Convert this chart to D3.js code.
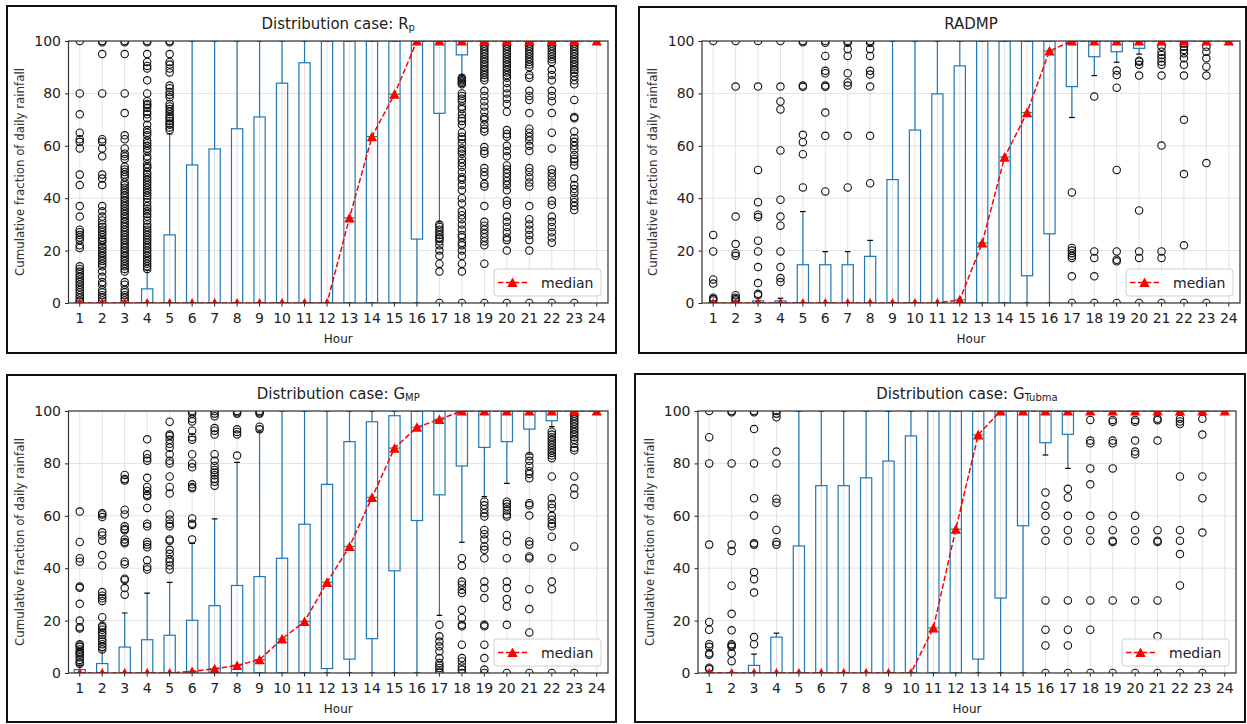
<!DOCTYPE html>
<html>
<head>
<meta charset="utf-8">
<script src="https://cdn.jsdelivr.net/npm/d3@7"></script>
<style>
  body { margin: 0; background: #fff; }
  text { font-family: "DejaVu Sans", sans-serif; }
</style>
</head>
<body>
<div id="chart"></div>
<script>
// hours on the x axis
var hours = [1, 2, 3, 4, 5, 6, 7, 8, 9, 10, 11, 12, 13, 14, 15, 16, 17, 18, 19, 20, 21, 22, 23, 24];
var yTicks = [0, 20, 40, 60, 80, 100];

// Distribution case: Rp
var rpQ1 = [0, 0, 0, 0, 0, 0, 0, 0, 0, 0, 0, 0, 0, 0, 0, 24.4, 72.4, 94.7, 100, 100, 100, 100, 100, 100];
var rpQ3 = [0, 0, 0, 5.4, 26, 52.7, 58.8, 66.5, 71, 83.9, 91.7, 100, 100, 100, 100, 100, 100, 100, 100, 100, 100, 100, 100, 100];
var rpLow = [0, 0, 0, 0, 0, 0, 0, 0, 0, 0, 0, 0, 0, 0, 0, 0, 31, 87, 100, 100, 100, 100, 100, 100];
var rpHigh = [0, 0, 0, 12.5, 64.5, 100, 100, 100, 100, 100, 100, 100, 100, 100, 100, 100, 100, 100, 100, 100, 100, 100, 100, 100];
var rpMedian = [0, 0, 0, 0, 0, 0, 0, 0, 0, 0, 0, 0, 32.5, 63.5, 79.7, 100, 100, 100, 100, 100, 100, 100, 100, 100];
var rpFliers = [
  [100, 80, 72, 65, 62.5, 61.5, 59, 49, 45, 37, 33, 28, 27, 26, 25, 24, 22, 21, 14, 13, 12, 11, 10, 9, 8, 7, 6, 5, 4, 3, 2, 1, 0.5],
  [100, 99.5, 95, 80, 62.5, 61.5, 59, 56, 49, 47.5, 45, 37, 35, 33, 31.5, 30, 29, 28, 27, 26, 25, 24, 23.5, 22, 21, 20, 19, 18, 17, 16, 15, 14, 12, 10, 8, 7, 5, 4, 3, 2, 1],
  [100, 99.5, 95, 80, 72.5, 64, 62.5, 59, 57, 56, 55, 52, 51, 50, 49, 48, 46, 45, 44, 43, 42, 41, 40, 39, 38, 37, 36, 35, 34, 33, 32, 31, 30, 29, 28, 27, 26, 25, 24, 23, 22, 21, 20, 19, 18, 17, 16, 15, 14, 13, 12, 8, 7, 5, 4, 3, 2, 1],
  [100, 99.5, 95, 92, 90.5, 89.5, 85, 80, 77, 76, 75.5, 74.5, 73, 72, 70.5, 68, 66, 65, 64, 62, 61, 60, 59, 58, 56, 55, 53, 52, 51.5, 50, 49, 48, 47, 46, 45, 44, 43, 42, 41, 40, 38.5, 37, 36, 35, 34, 33, 31.5, 30, 29, 28, 27, 26, 25, 24, 23, 22, 21, 20, 19, 18, 17, 16, 15, 14, 13],
  [100, 99.5, 95, 92, 91, 89.5, 88, 83, 82, 80.5, 79.5, 78.5, 76, 75, 74, 73, 72, 71, 70.5, 69.5, 68.5, 68, 67, 66],
  [], [], [], [], [], [], [], [], [], [], [],
  [30, 29, 28, 27, 26, 25, 24.5, 23.5, 22, 20, 18, 15, 12, 0],
  [86, 85.5, 85, 84.5, 84, 83.5, 80, 79, 78, 77, 75, 74, 72, 70.5, 69.5, 68, 65, 63.5, 62.5, 61, 59, 58, 57, 55, 53.5, 52, 50, 48, 47, 45, 43, 40, 38, 35, 33.5, 32, 30, 28, 26, 25, 23, 22, 20, 18, 15, 12, 0],
  [99, 98, 97, 96, 95, 94, 93, 92, 91, 90, 89, 88, 87, 86, 85, 81, 79, 77, 75, 73, 71, 70, 68, 66.5, 65.5, 59.5, 58, 57, 51.5, 50, 48.5, 45.5, 44.5, 37, 31, 29.5, 28, 26.5, 25, 23.5, 22, 15, 0],
  [99, 98, 97, 96, 95, 94, 93, 92, 91, 90, 89, 88, 87, 86, 84, 82, 80, 78, 76, 73, 66, 64.5, 63.5, 60, 58, 56, 52.5, 51, 49.5, 48, 46.5, 45, 43, 39, 37.5, 33, 31, 29, 27, 25, 24, 20, 0],
  [99, 98, 97, 96, 95, 94, 93, 92, 91, 90, 87, 86, 81, 79, 77.5, 72.5, 66.5, 65, 63.5, 62, 60, 58, 51.5, 50, 48, 46, 44.5, 37, 32, 30, 28, 26, 24, 20, 0],
  [99, 98, 97, 96, 95, 94, 93, 92, 89, 87, 85, 81, 79, 77, 72.5, 65, 59, 51, 49.5, 48, 46, 44.5, 39, 37.5, 33, 31, 29, 27, 25, 23, 0],
  [99, 98, 97, 96, 95, 94, 93, 92, 91, 90, 89, 88, 86.5, 85, 83.5, 77.5, 71, 70.5, 65.5, 63, 61.5, 60, 58.5, 56.5, 55, 54, 52.5, 47.5, 45, 43.5, 42, 40, 38.5, 37, 35.5, 0],
  []
];

// RADMP
var adQ1 = [0, 0, 0, 0, 0, 0, 0, 0, 0, 0, 0, 0, 0, 0, 10.4, 26.4, 82.6, 94, 95.9, 97.2, 100, 100, 100, 100];
var adQ3 = [0, 0, 0.8, 0.8, 14.6, 14.6, 14.6, 17.8, 47.1, 66, 79.8, 90.5, 100, 100, 100, 100, 100, 100, 100, 100, 100, 100, 100, 100];
var adLow = [0, 0, 0, 0, 0, 0, 0, 0, 0, 0, 0, 0, 0, 0, 0, 0, 70.8, 86.8, 91.9, 95, 100, 100, 100, 100];
var adHigh = [0, 0, 0.8, 1.8, 34.9, 19.6, 19.6, 23.9, 100, 100, 100, 100, 100, 100, 100, 100, 100, 100, 100, 100, 100, 100, 100, 100];
var adMedian = [0, 0, 0, 0, 0, 0, 0, 0, 0, 0, 0, 1.2, 22.9, 55.7, 72.7, 96.2, 100, 100, 100, 100, 100, 100, 100, 100];
var adFliers = [
  [100, 26, 19.7, 9, 7.4, 2, 1.5, 1],
  [100, 82.6, 33, 22.5, 19, 18, 3, 2, 1.5, 1],
  [100, 82.6, 50.8, 38.5, 33.7, 32.8, 23.8, 19.7, 13.7, 7.6, 3.5, 3],
  [100, 82.6, 76.9, 73.9, 58.2, 39.4, 33, 29.5, 19.7, 13.7, 9.5, 8],
  [100, 99.5, 83, 82.5, 64.2, 61.4, 56.8, 44.1],
  [100, 99.3, 94.3, 88.6, 87.7, 83, 82.5, 72.7, 63.8, 42.6],
  [100, 99.3, 96.9, 94.3, 87.7, 84.2, 83, 63.8, 44.1],
  [100, 99.3, 96.9, 94.3, 88.6, 87.2, 82.6, 63.8, 45.7],
  [], [], [], [], [], [], [], [],
  [42.2, 21, 20, 19, 18, 17.2, 10.2, 0],
  [78.8, 19.7, 17.2, 10.2, 0],
  [88.7, 87, 82.2, 50.8, 19.7, 16.5, 15.9, 0],
  [92.5, 92.1, 90.9, 86.8, 35.3, 19.7, 17.2, 0],
  [97.8, 95.9, 94.7, 93.4, 92.1, 90.9, 86.8, 60.1, 19.7, 17.2, 0],
  [99, 97.8, 96.6, 95.3, 93.4, 90.9, 86.8, 69.9, 49.2, 22, 0],
  [97.8, 95.9, 93.4, 90.2, 86.8, 53.4, 0],
  []
];

// Distribution case: GMP
var gmQ1 = [0, 0, 0, 0, 0, 0, 0, 0, 0, 0, 0, 1.7, 5.3, 13.1, 39, 58.2, 68, 79, 86.1, 88.3, 93.1, 96.3, 100, 100];
var gmQ3 = [1.3, 3.6, 9.9, 12.7, 14.4, 20.1, 25.7, 33.4, 36.8, 43.8, 56.8, 72, 88.3, 95.9, 98.2, 100, 100, 100, 100, 100, 100, 100, 100, 100];
var gmLow = [0, 0, 0, 0, 0, 0, 0, 0, 0, 0, 0, 0, 0, 0, 0, 0, 22, 49.9, 67.3, 72.4, 83.5, 94, 100, 100];
var gmHigh = [3, 8.5, 22.9, 30.5, 34.6, 49.5, 58.8, 80.4, 92, 100, 100, 100, 100, 100, 100, 100, 100, 100, 100, 100, 100, 100, 100, 100];
var gmMedian = [0, 0, 0, 0, 0, 0.6, 1.6, 2.9, 5.1, 13, 19.7, 34.6, 48.3, 67, 85.8, 93.8, 96.8, 100, 100, 100, 100, 100, 100, 100];
var gmFliers = [
  [61.6, 50, 43.8, 42.5, 33, 32.5, 26.4, 20, 17.5, 17, 11, 10.5, 10, 9, 8, 7.5, 7, 6, 5, 4, 3.5],
  [61, 60.5, 59.5, 53.7, 52.5, 50.5, 45, 41, 30.9, 29.5, 28.5, 27.5, 21.3, 18, 17.5, 16.5, 15.5, 14.5, 13, 12, 11, 10, 9],
  [75.6, 74, 73.5, 62.3, 60.5, 56, 55, 54.5, 51, 50, 49.5, 42.5, 41.5, 36, 35.5, 32.4, 29.9],
  [89.2, 83.5, 82, 81, 74.5, 71, 69.5, 68, 67.5, 63, 57, 56, 50, 49, 48, 43, 40.5, 39.5],
  [95.9, 91, 90.5, 89, 87.5, 86, 83.5, 81, 80, 75, 71, 68.5, 60.5, 58.5, 57, 56, 51, 50.5, 47, 45.5, 43.5, 42.5, 41, 39.5],
  [100, 99, 97, 96, 92.5, 90, 89, 83.5, 80, 78.5, 72, 71, 70.5, 59, 57, 56.5, 51],
  [100, 99, 98, 93.5, 92.5, 91, 83.5, 81, 79, 77.5, 76.5, 75.5, 74, 73, 71.5],
  [100, 99.5, 99, 93, 92, 91, 83],
  [100, 99.5, 99, 94, 93],
  [], [], [], [], [], [], [],
  [18.4, 14, 12, 10.2, 8.3, 5.7, 3.8, 2.8, 1.9, 0.6, 0],
  [43.8, 40.9, 34.9, 33.7, 31.8, 30.5, 24.1, 21, 18.4, 17.8, 10.8, 5.7, 4.4, 2.5, 1.3, 0],
  [65.4, 64, 62.5, 61, 59.7, 54.6, 53, 51, 48.3, 47, 43.8, 34.9, 32.4, 28.6, 18.4, 17.8, 10.8, 5.7, 1.3, 0],
  [65.4, 64.5, 63.5, 62, 60.5, 59.7, 52.7, 50.2, 43.8, 34.9, 32.4, 28.2, 25.4, 18.4, 0],
  [82.8, 81, 79, 77, 76, 74.3, 64.8, 64, 60.1, 50.2, 49, 44.5, 43.8, 32, 24.4, 15.5, 0],
  [92.1, 91, 90, 89, 88, 87, 86, 85, 84, 83, 82, 75, 66.7, 64.5, 63, 60, 58.5, 57, 56, 52, 43.8, 34.9, 32, 0],
  [99, 98, 97, 96, 95, 94, 93, 92, 91, 90, 89, 87.5, 86, 85, 75, 70.5, 68, 48.3, 0],
  []
];

// Distribution case: GTubma
var tbQ1 = [0, 0, 0, 0, 0, 0, 0, 0, 0, 0, 0, 0, 5.3, 28.6, 56.2, 87.9, 91.1, 100, 100, 100, 100, 100, 100, 100];
var tbQ3 = [0, 0, 2.9, 13.7, 48.5, 71.5, 71.5, 74.5, 80.9, 90.5, 100, 100, 100, 100, 100, 100, 100, 100, 100, 100, 100, 100, 100, 100];
var tbLow = [0, 0, 0, 0, 0, 0, 0, 0, 0, 0, 0, 0, 0, 0, 0, 83.2, 78.1, 100, 100, 100, 100, 100, 100, 100];
var tbHigh = [0, 0, 7.2, 15.2, 100, 100, 100, 100, 100, 100, 100, 100, 100, 100, 100, 100, 100, 100, 100, 100, 100, 100, 100, 100];
var tbMedian = [0, 0, 0, 0, 0, 0, 0, 0, 0, 0, 17.2, 54.9, 90.9, 100, 100, 100, 100, 100, 100, 100, 100, 100, 100, 100];
var tbFliers = [
  [100, 90, 80, 49, 19.5, 16.5, 11, 10, 7.5, 7, 2, 1.5],
  [100, 99.5, 80, 49, 46.6, 33.3, 22.6, 16.3, 11, 10.5, 10, 7.5, 4.5],
  [100, 99.5, 93.1, 80, 66.7, 60.1, 49.5, 49, 38.5, 35.8, 30.7, 13.7, 11],
  [100, 99, 97.6, 84.5, 80, 66.5, 65, 54.6, 50, 49],
  [], [], [], [], [], [], [], [], [], [], [],
  [68.9, 63.8, 60, 54.5, 50.5, 27.7, 16.5, 10.5, 0],
  [70.3, 67, 60, 54.5, 50.5, 27.7, 16.5, 10.5, 0],
  [96.6, 88.7, 87.7, 78.1, 72, 60, 54.5, 50.5, 27.7, 16.5, 0],
  [96.6, 95.9, 88.7, 87.7, 78.1, 60, 54.5, 50.5, 50, 27.7, 0],
  [96.6, 95.9, 88.7, 84.5, 83.5, 60, 54.5, 50.5, 27.7, 0],
  [97, 96.5, 88.7, 54.5, 50.5, 50, 27.7, 14, 0],
  [97, 96, 95, 75, 54.5, 50.5, 45.4, 33.4, 0],
  [97, 91, 75, 66.7, 53.6, 0],
  []
];

var panels = [
  { title: 'Distribution case: R', sub: 'p', frame: [7, 6, 609, 347], plot: [68.5, 41, 608, 303], ylabX: 20,
    q1: rpQ1, q3: rpQ3, lo: rpLow, hi: rpHigh, med: rpMedian, fliers: rpFliers },
  { title: 'RADMP', sub: '', frame: [639, 7, 607, 346], plot: [702, 41, 1240, 303], ylabX: 653,
    q1: adQ1, q3: adQ3, lo: adLow, hi: adHigh, med: adMedian, fliers: adFliers },
  { title: 'Distribution case: G', sub: 'MP', frame: [7, 375, 609, 347], plot: [68.5, 411, 608, 673], ylabX: 20,
    q1: gmQ1, q3: gmQ3, lo: gmLow, hi: gmHigh, med: gmMedian, fliers: gmFliers },
  { title: 'Distribution case: G', sub: 'Tubma', frame: [635, 374, 610, 348], plot: [698, 411, 1236, 673], ylabX: 650,
    q1: tbQ1, q3: tbQ3, lo: tbLow, hi: tbHigh, med: tbMedian, fliers: tbFliers }
];

var blue = '#1f77b4';
var tri = 'M0,-5L5.2,4.6L-5.2,4.6Z';

var svg = d3.select('#chart').append('svg')
    .attr('width', 1247)
    .attr('height', 724);

panels.forEach(function(p, pi) {
  var left = p.plot[0], top = p.plot[1], right = p.plot[2], bottom = p.plot[3];
  var x = d3.scaleBand().domain(hours).range([left, right]);
  var y = d3.scaleLinear().domain([0, 100]).range([bottom, top]);
  var bw = x.bandwidth();
  var cx = function(h) { return x(h) + bw / 2; };
  var g = svg.append('g');

  // outer frame
  g.append('rect')
      .attr('x', p.frame[0]).attr('y', p.frame[1])
      .attr('width', p.frame[2]).attr('height', p.frame[3])
      .attr('fill', 'none').attr('stroke', '#111').attr('stroke-width', 2);

  var clipId = 'clip' + pi;
  svg.append('clipPath').attr('id', clipId).append('rect')
      .attr('x', left).attr('y', top)
      .attr('width', right - left).attr('height', bottom - top);

  var plot = g.append('g').attr('clip-path', 'url(#' + clipId + ')');

  // grid
  plot.selectAll('.gy').data(yTicks).enter().append('line')
      .attr('x1', left).attr('x2', right)
      .attr('y1', function(d) { return y(d); }).attr('y2', function(d) { return y(d); })
      .attr('stroke', '#e2e2e2').attr('stroke-width', 1);
  plot.selectAll('.gx').data(hours).enter().append('line')
      .attr('x1', cx).attr('x2', cx)
      .attr('y1', top).attr('y2', bottom)
      .attr('stroke', '#e2e2e2').attr('stroke-width', 1);

  var rows = hours.map(function(h, i) {
    return { h: h, q1: p.q1[i], q3: p.q3[i], lo: p.lo[i], hi: p.hi[i], med: p.med[i], fliers: p.fliers[i] };
  });

  // whiskers
  plot.selectAll('.wh').data(rows).enter().append('line')
      .attr('x1', function(d) { return cx(d.h); }).attr('x2', function(d) { return cx(d.h); })
      .attr('y1', function(d) { return y(d.q3); }).attr('y2', function(d) { return y(d.hi); })
      .attr('stroke', blue).attr('stroke-width', 1.2);
  plot.selectAll('.wl').data(rows).enter().append('line')
      .attr('x1', function(d) { return cx(d.h); }).attr('x2', function(d) { return cx(d.h); })
      .attr('y1', function(d) { return y(d.q1); }).attr('y2', function(d) { return y(d.lo); })
      .attr('stroke', blue).attr('stroke-width', 1.2);

  // caps
  ['hi', 'lo'].forEach(function(k) {
    plot.selectAll('.cap' + k).data(rows).enter().append('line')
        .attr('x1', function(d) { return cx(d.h) - bw * 0.125; })
        .attr('x2', function(d) { return cx(d.h) + bw * 0.125; })
        .attr('y1', function(d) { return y(d[k]); }).attr('y2', function(d) { return y(d[k]); })
        .attr('stroke', '#000').attr('stroke-width', 1.2);
  });

  // boxes
  plot.selectAll('.box').data(rows).enter().append('rect')
      .attr('x', function(d) { return cx(d.h) - bw * 0.25; })
      .attr('width', bw * 0.5)
      .attr('y', function(d) { return y(d.q3); })
      .attr('height', function(d) { return y(d.q1) - y(d.q3); })
      .attr('fill', 'none').attr('stroke', blue).attr('stroke-width', 1.2);

  // box medians
  plot.selectAll('.bm').data(rows).enter().append('line')
      .attr('x1', function(d) { return cx(d.h) - bw * 0.25; })
      .attr('x2', function(d) { return cx(d.h) + bw * 0.25; })
      .attr('y1', function(d) { return y(d.med); }).attr('y2', function(d) { return y(d.med); })
      .attr('stroke', '#2ca02c').attr('stroke-width', 1.2);

  // fliers
  var pts = [];
  rows.forEach(function(d) { d.fliers.forEach(function(v) { pts.push({ h: d.h, v: v }); }); });
  plot.selectAll('.fl').data(pts).enter().append('circle')
      .attr('cx', function(d) { return cx(d.h); })
      .attr('cy', function(d) { return y(d.v); })
      .attr('r', 3.7)
      .attr('fill', 'none').attr('stroke', '#111').attr('stroke-width', 1.1);

  // red median line
  var line = d3.line().x(function(d) { return cx(d.h); }).y(function(d) { return y(d.med); });
  plot.append('path').datum(rows)
      .attr('d', line)
      .attr('fill', 'none').attr('stroke', 'red').attr('stroke-width', 1.5)
      .attr('stroke-dasharray', '5.5,2.4');
  plot.selectAll('.mk').data(rows).enter().append('path')
      .attr('d', tri)
      .attr('transform', function(d) { return 'translate(' + cx(d.h) + ',' + y(d.med) + ')'; })
      .attr('fill', 'red');

  // axes
  var xa = g.append('g').attr('transform', 'translate(0,' + bottom + ')')
      .call(d3.axisBottom(x).tickSize(3.5).tickPadding(6.5));
  var ya = g.append('g').attr('transform', 'translate(' + left + ',0)')
      .call(d3.axisLeft(y).tickValues(yTicks).tickSize(3.5).tickPadding(4));
  [xa, ya].forEach(function(a) {
    a.select('.domain').remove();
    a.selectAll('text').style('font-size', '14px').attr('fill', '#222');
    a.selectAll('line').attr('stroke', '#222');
  });

  // spines
  g.append('rect')
      .attr('x', left).attr('y', top)
      .attr('width', right - left).attr('height', bottom - top)
      .attr('fill', 'none').attr('stroke', '#333').attr('stroke-width', 1.2);

  // title
  var t = g.append('text')
      .attr('x', (left + right) / 2).attr('y', top - 12)
      .attr('text-anchor', 'middle')
      .style('font-size', '15px').attr('fill', '#222')
      .text(p.title);
  if (p.sub) {
    t.append('tspan').attr('dy', 2).style('font-size', '10px').text(p.sub);
  }

  // axis labels
  g.append('text')
      .attr('x', (left + right) / 2).attr('y', bottom + 40)
      .attr('text-anchor', 'middle')
      .style('font-size', '12px').attr('fill', '#222')
      .text('Hour');
  g.append('text')
      .attr('transform', 'translate(' + p.ylabX + ',' + ((top + bottom) / 2) + ') rotate(-90)')
      .attr('text-anchor', 'middle').attr('dy', '0.35em')
      .style('font-size', '11.8px').attr('fill', '#333')
      .text('Cumulative fraction of daily rainfall');

  // legend
  var lw = 107, lh = 27;
  var lx = right - 7 - lw, ly = bottom - 7 - lh;
  var lg = g.append('g');
  lg.append('rect')
      .attr('x', lx).attr('y', ly).attr('width', lw).attr('height', lh).attr('rx', 3)
      .attr('fill', '#fff').attr('fill-opacity', 0.8)
      .attr('stroke', '#d0d0d0').attr('stroke-width', 1);
  lg.append('line')
      .attr('x1', lx + 4).attr('x2', lx + 33)
      .attr('y1', ly + lh / 2).attr('y2', ly + lh / 2)
      .attr('stroke', 'red').attr('stroke-width', 1.5).attr('stroke-dasharray', '5.5,2.4');
  lg.append('path')
      .attr('d', tri)
      .attr('transform', 'translate(' + (lx + 18.5) + ',' + (ly + lh / 2) + ')')
      .attr('fill', 'red');
  lg.append('text')
      .attr('x', lx + 47).attr('y', ly + lh / 2 + 5)
      .style('font-size', '14px').attr('fill', '#222')
      .text('median');
});
</script>
</body>
</html>
